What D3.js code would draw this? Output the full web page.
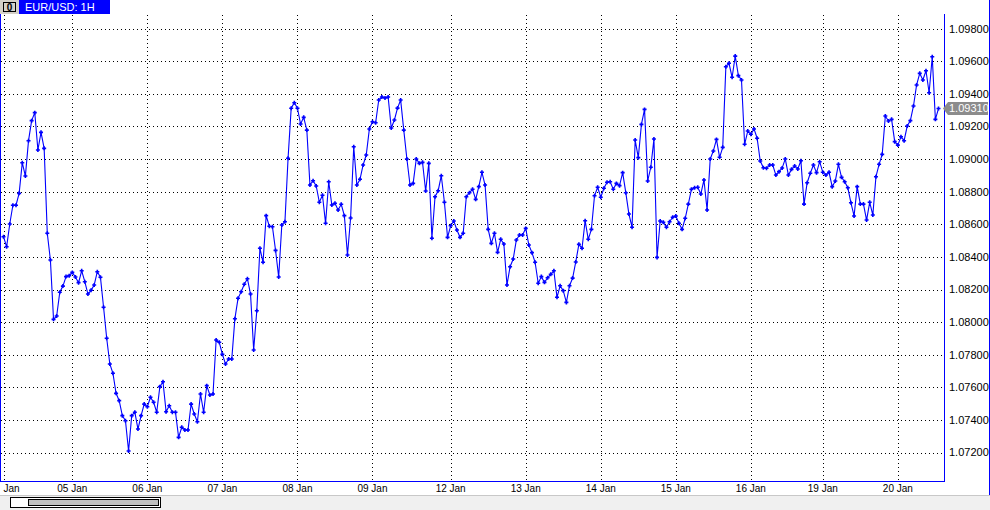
<!DOCTYPE html>
<html><head><meta charset="utf-8">
<script src="https://cdn.jsdelivr.net/npm/d3@7"></script>
<style>
html,body{margin:0;padding:0;background:#fff;overflow:hidden}
svg{display:block}
text{font-family:"Liberation Sans",Arial,sans-serif}
</style></head>
<body>
<svg id="chart" width="990" height="510"></svg>
<script>
// ---- data ----
const symbolTitle = "EUR/USD: 1H";
const lastPriceLabel = "1.09310";
const dayLabels = ["Jan","05 Jan","06 Jan","07 Jan","08 Jan","09 Jan","12 Jan","13 Jan","14 Jan","15 Jan","16 Jan","19 Jan","20 Jan"];
const dayStartBar = [0,22,46,70,94,118,143,167,191,215,239,262,286];
const priceTicks = [1.072,1.074,1.076,1.078,1.080,1.082,1.084,1.086,1.088,1.090,1.092,1.094,1.096,1.098];
const closes = [
1.08524,1.08462,1.08602,1.08717,1.08717,1.08790,1.08978,1.08896,1.09113,1.09236,
1.09285,1.09056,1.09164,1.09066,1.08545,1.08381,1.08017,1.08037,1.08183,1.08221,
1.08279,1.08285,1.08305,1.08277,1.08242,1.08315,1.08248,1.08172,1.08195,1.08228,
1.08309,1.08275,1.08091,1.07901,1.07743,1.07686,1.07563,1.07518,1.07426,1.07395,
1.07209,1.07426,1.07447,1.07344,1.07426,1.07497,1.07481,1.07539,1.07508,1.07447,
1.07604,1.07634,1.07450,1.07487,1.07447,1.07447,1.07293,1.07355,1.07338,1.07338,
1.07497,1.07436,1.07389,1.07559,1.07447,1.07610,1.07553,1.07559,1.07890,1.07876,
1.07802,1.07743,1.07774,1.07774,1.08021,1.08146,1.08186,1.08232,1.08266,1.08172,
1.07829,1.08070,1.08453,1.08367,1.08653,1.08588,1.08585,1.08440,1.08277,1.08596,
1.08616,1.09005,1.09312,1.09346,1.09312,1.09215,1.09256,1.09178,1.08841,1.08867,
1.08835,1.08735,1.08778,1.08606,1.08861,1.08718,1.08729,1.08688,1.08723,1.08653,
1.08412,1.08639,1.09076,1.08841,1.08876,1.08964,1.09025,1.09185,1.09229,1.09223,
1.09363,1.09381,1.09375,1.09381,1.09191,1.09240,1.09313,1.09363,1.09178,1.09001,
1.08841,1.08851,1.09001,1.08974,1.08980,1.08804,1.08974,1.08514,1.08769,1.08806,
1.08898,1.08735,1.08520,1.08591,1.08620,1.08565,1.08520,1.08545,1.08769,1.08794,
1.08815,1.08753,1.08831,1.08919,1.08841,1.08569,1.08483,1.08545,1.08428,1.08508,
1.08479,1.08228,1.08340,1.08387,1.08504,1.08534,1.08534,1.08575,1.08473,1.08426,
1.08367,1.08238,1.08279,1.08244,1.08272,1.08293,1.08315,1.08152,1.08223,1.08193,
1.08121,1.08223,1.08270,1.08369,1.08477,1.08453,1.08622,1.08508,1.08569,1.08775,
1.08827,1.08766,1.08821,1.08858,1.08861,1.08815,1.08851,1.08837,1.08917,1.08794,
1.08663,1.08582,1.09117,1.09009,1.09213,1.09305,1.08866,1.08950,1.09123,1.08397,
1.08620,1.08612,1.08582,1.08616,1.08643,1.08651,1.08606,1.08569,1.08637,1.08724,
1.08815,1.08824,1.08827,1.08786,1.08872,1.08688,1.09001,1.09050,1.09121,1.09011,
1.09072,1.09567,1.09588,1.09502,1.09632,1.09512,1.09485,1.09091,1.09172,1.09152,
1.09185,1.09128,1.08988,1.08947,1.08944,1.08964,1.08964,1.08902,1.08923,1.08945,
1.09001,1.08902,1.08937,1.08958,1.08939,1.08990,1.08724,1.08855,1.08913,1.08964,
1.08917,1.08984,1.08919,1.08902,1.08919,1.08831,1.08866,1.08968,1.08888,1.08861,
1.08824,1.08732,1.08651,1.08831,1.08724,1.08724,1.08626,1.08735,1.08657,1.08892,
1.08968,1.09029,1.09264,1.09234,1.09244,1.09107,1.09086,1.09137,1.09113,1.09203,
1.09236,1.09326,1.09455,1.09526,1.09485,1.09542,1.09407,1.09628,1.09244,1.09310
];

// ---- drawing ----
const svg = d3.select("#chart");
const W = 990, H = 510;
const plotRight = 944, plotBottom = 481, plotTop = 14;
const blue = "#0000ff";

const x = d3.scaleLinear().domain([0, closes.length - 1]).range([3.5, 938.5]);
const y = d3.scaleLinear().domain([1.072, 1.098]).range([452.5, 28.7]);

svg.append("rect").attr("width", W).attr("height", H).attr("fill", "#fff");

svg.append("clipPath").attr("id","plotclip")
  .append("rect").attr("x",0).attr("y",plotTop).attr("width",plotRight).attr("height",plotBottom-plotTop);

// horizontal grid
svg.append("g").selectAll("line").data(priceTicks).join("line")
  .attr("x1", 1).attr("x2", plotRight)
  .attr("y1", d => Math.round(y(d)) + 0.5).attr("y2", d => Math.round(y(d)) + 0.5)
  .attr("stroke", "#000").attr("stroke-width", 1).attr("stroke-dasharray", "1,3");

// vertical grid
svg.append("g").selectAll("line").data(dayStartBar).join("line")
  .attr("x1", d => Math.round(x(d)) + 0.5).attr("x2", d => Math.round(x(d)) + 0.5)
  .attr("y1", plotTop + 1).attr("y2", plotBottom)
  .attr("stroke", "#000").attr("stroke-width", 1).attr("stroke-dasharray", "1,3");

// price line
const g = svg.append("g").attr("clip-path","url(#plotclip)");
g.append("path").datum(closes)
  .attr("fill","none").attr("stroke",blue).attr("stroke-width",1.1)
  .attr("d", d3.line().x((d,i)=>x(i)).y(d=>y(d)));
g.append("g").selectAll("path").data(closes).join("path")
  .attr("transform",(d,i)=>`translate(${x(i)},${y(d)})`)
  .attr("d","M-2,0H2M0,-2V2")
  .attr("stroke",blue).attr("stroke-width",1.6).attr("fill","none");

// borders
svg.append("line").attr("x1",0.5).attr("x2",0.5).attr("y1",plotTop).attr("y2",plotBottom).attr("stroke",blue);
svg.append("line").attr("x1",0).attr("x2",plotRight+1).attr("y1",plotBottom+0.5).attr("y2",plotBottom+0.5).attr("stroke",blue);
svg.append("line").attr("x1",plotRight+0.5).attr("x2",plotRight+0.5).attr("y1",plotTop).attr("y2",plotBottom+1).attr("stroke",blue);
svg.append("line").attr("x1",W-0.5).attr("x2",W-0.5).attr("y1",0).attr("y2",495).attr("stroke",blue);

// right price axis labels
svg.append("g").selectAll("text").data(priceTicks).join("text")
  .attr("x", 949).attr("y", d => y(d)).attr("dy","0.35em")
  .attr("font-size", 11).attr("fill","#000")
  .text(d => d.toFixed(5));

// last price marker
const ly = y(closes[closes.length-1]);
svg.append("path")
  .attr("d", `M${plotRight-1},${ly} L${plotRight+4},${ly-6.5} H988 V${ly+6.5} H${plotRight+4} Z`)
  .attr("fill","#8c8c8c");
svg.append("text").attr("x",949).attr("y",ly).attr("dy","0.35em")
  .attr("font-size",11).attr("fill","#fff").text(lastPriceLabel);

// date labels (first one is only partly visible at the left edge in the original)
svg.append("g").selectAll("text").data(dayStartBar).join("text")
  .attr("x", (d,i) => i === 0 ? x(d) : x(d))
  .attr("y", 492)
  .attr("text-anchor", (d,i) => i === 0 ? "start" : "middle")
  .attr("font-size", 10).attr("fill","#000")
  .text((d,i) => dayLabels[i]);

// header
svg.append("rect").attr("x",0).attr("y",0).attr("width",19).attr("height",14).attr("fill","#d4d0c8");
svg.append("rect").attr("x",3.5).attr("y",2.5).attr("width",12).attr("height",9).attr("fill","#d4d0c8").attr("stroke","#000");
svg.append("text").attr("x",9.5).attr("y",11).attr("text-anchor","middle").attr("font-size",10).attr("font-weight","bold").text("0");
svg.append("rect").attr("x",19).attr("y",0).attr("width",91).attr("height",14).attr("fill",blue);
svg.append("text").attr("x",25).attr("y",11).attr("font-size",11).attr("fill","#fff").text(symbolTitle);

// bottom scrollbar area
svg.append("rect").attr("x",0).attr("y",495).attr("width",W).attr("height",15).attr("fill","#f0f0f0");
svg.append("line").attr("x1",0).attr("x2",W).attr("y1",495.5).attr("y2",495.5).attr("stroke","#c8c8c8");
svg.append("rect").attr("x",10.5).attr("y",497.5).attr("width",150).attr("height",10).attr("fill","#fff").attr("stroke","#000");
svg.append("rect").attr("x",28.5).attr("y",499.5).attr("width",130).attr("height",6).attr("fill","#c0c0c0").attr("stroke","#000");
</script>
</body></html>
